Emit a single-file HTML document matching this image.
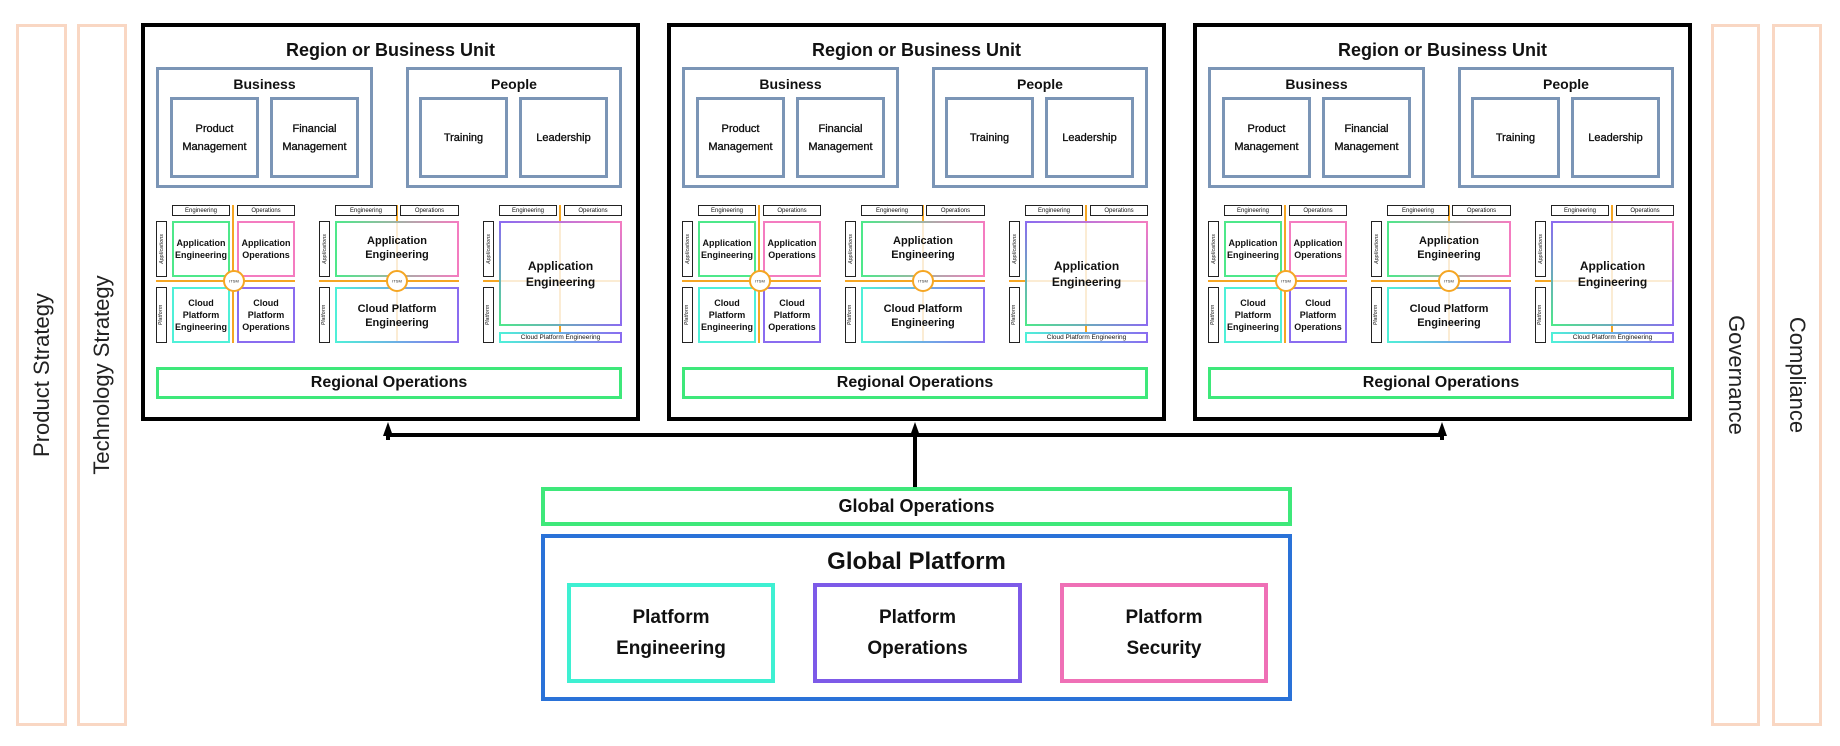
<!DOCTYPE html>
<html><head><meta charset="utf-8"><style>
*{box-sizing:border-box;margin:0;padding:0}
body{width:1840px;height:746px;background:#fff;position:relative;overflow:hidden;font-family:"Liberation Sans",sans-serif;color:#111}
.a{position:absolute}
.c{display:flex;align-items:center;justify-content:center;text-align:center;font-weight:bold}
.side{position:absolute;border:3px solid #f9d7c3;top:24px;height:702px}
.side span{position:absolute;left:50%;top:50%;transform:translate(-50%,-50%) rotate(-90deg);white-space:nowrap;font-size:22px;color:#222}
.side.r span{transform:translate(-50%,-50%) rotate(90deg)}
.reg{position:absolute;top:23px;width:499px;height:398px;border:4px solid #000}
.reg .in{position:absolute;left:-4px;top:-4px;width:499px;height:398px}
.bl{border:3px solid #7b95b6}
.lab{border:1.5px solid #222;font-size:6px;font-weight:normal}
.sl{border:1.5px solid #222}
.sl span{font-size:5px;transform:rotate(-90deg);white-space:nowrap;font-style:italic;color:#555}
.q{font-size:9px;line-height:12px}
</style></head><body>

<div class="side" style="left:16px;width:51px"><span>Product Strategy</span></div>
<div class="side" style="left:77px;width:50px"><span>Technology Strategy</span></div>
<div class="side r" style="left:1711px;width:49px"><span>Governance</span></div>
<div class="side r" style="left:1772px;width:50px"><span>Compliance</span></div>

<div id="r1" class="reg" style="left:141px"><div class="in">
<div class="a c" style="left:0;top:14px;width:499px;height:26px;font-size:18px">Region or Business Unit</div>
<div class="a bl" style="left:15px;top:44px;width:217px;height:121px"></div>
<div class="a c" style="left:15px;top:52px;width:217px;height:18px;font-size:14px">Business</div>
<div class="a bl" style="left:265px;top:44px;width:216px;height:121px"></div>
<div class="a c" style="left:265px;top:52px;width:216px;height:18px;font-size:14px">People</div>
<div class="a bl c" style="left:29px;top:74px;width:89px;height:81px;font-size:11px;line-height:18px;font-weight:normal;-webkit-text-stroke:.3px #000">Product<br>Management</div>
<div class="a bl c" style="left:129px;top:74px;width:89px;height:81px;font-size:11px;line-height:18px;font-weight:normal;-webkit-text-stroke:.3px #000">Financial<br>Management</div>
<div class="a bl c" style="left:278px;top:74px;width:89px;height:81px;font-size:11px;font-weight:normal;-webkit-text-stroke:.3px #000">Training</div>
<div class="a bl c" style="left:378px;top:74px;width:89px;height:81px;font-size:11px;font-weight:normal;-webkit-text-stroke:.3px #000">Leadership</div>

<svg class="a" style="left:0;top:0" width="499" height="398">
<defs>
<linearGradient id="g1"><stop offset="0" stop-color="#4ee88a"/><stop offset="1" stop-color="#f47cc0"/></linearGradient>
<linearGradient id="g2"><stop offset="0" stop-color="#4ff0d8"/><stop offset="1" stop-color="#8a6cf0"/></linearGradient>
<linearGradient id="g3" x1="0" y1="1" x2="1" y2="0"><stop offset="0" stop-color="#4ee88a"/><stop offset=".5" stop-color="#8a6cf0"/><stop offset="1" stop-color="#f47cc0"/></linearGradient>
</defs>
<g stroke="#f5a623" stroke-width="2">
<line x1="92" y1="182" x2="92" y2="320"/><line x1="15" y1="258" x2="154" y2="258"/>
<line x1="256" y1="182" x2="256" y2="198"/><line x1="178" y1="258" x2="318" y2="258"/>
<line x1="419" y1="182" x2="419" y2="198"/><line x1="342" y1="258" x2="358" y2="258"/><line x1="419" y1="303" x2="419" y2="309"/>
</g>
<g stroke="#f7d9a8" stroke-width="1"><line x1="256" y1="198" x2="256" y2="320"/><line x1="419" y1="198" x2="419" y2="303"/><line x1="358" y1="258" x2="481" y2="258"/></g>
<g fill="none" stroke-width="2">
<rect x="32" y="199" width="56" height="54" stroke="#4ee88a"/>
<rect x="97" y="199" width="56" height="54" stroke="#f47cc0"/>
<rect x="32" y="265" width="56" height="54" stroke="#4ff0d8"/>
<rect x="97" y="265" width="56" height="54" stroke="#8a6cf0"/>
<rect x="195" y="199" width="122" height="54" stroke="url(#g1)"/>
<rect x="195" y="265" width="122" height="54" stroke="url(#g2)"/>
<rect x="359" y="199" width="121" height="103" stroke="url(#g3)"/>
<rect x="359" y="310" width="121" height="9" stroke="url(#g2)"/>
</g>
<g fill="#fff" stroke="#f5a623" stroke-width="2"><circle cx="93" cy="258" r="10"/><circle cx="256" cy="258" r="10"/></g>
<g font-family="Liberation Sans" font-size="4" text-anchor="middle" fill="#222"><text x="93" y="259.5">ITSM</text><text x="256" y="259.5">ITSM</text></g>
</svg>
<div class="a lab c" style="left:31px;top:182px;width:58px;height:11px">Engineering</div>
<div class="a lab c" style="left:96px;top:182px;width:58px;height:11px">Operations</div>
<div class="a lab c" style="left:194px;top:182px;width:62px;height:11px">Engineering</div>
<div class="a lab c" style="left:259px;top:182px;width:59px;height:11px">Operations</div>
<div class="a lab c" style="left:358px;top:182px;width:58px;height:11px">Engineering</div>
<div class="a lab c" style="left:423px;top:182px;width:58px;height:11px">Operations</div>
<div class="a sl c" style="left:15px;top:198px;width:11px;height:56px"><span>Applications</span></div>
<div class="a sl c" style="left:15px;top:264px;width:11px;height:56px"><span>Platform</span></div>
<div class="a sl c" style="left:178px;top:198px;width:11px;height:56px"><span>Applications</span></div>
<div class="a sl c" style="left:178px;top:264px;width:11px;height:56px"><span>Platform</span></div>
<div class="a sl c" style="left:342px;top:198px;width:11px;height:56px"><span>Applications</span></div>
<div class="a sl c" style="left:342px;top:264px;width:11px;height:56px"><span>Platform</span></div>
<div class="a c q" style="left:31px;top:198px;width:58px;height:56px">Application<br>Engineering</div>
<div class="a c q" style="left:96px;top:198px;width:58px;height:56px">Application<br>Operations</div>
<div class="a c q" style="left:31px;top:264px;width:58px;height:56px">Cloud<br>Platform<br>Engineering</div>
<div class="a c q" style="left:96px;top:264px;width:58px;height:56px">Cloud<br>Platform<br>Operations</div>
<div class="a c" style="left:194px;top:198px;width:124px;height:54px;font-size:11px;line-height:14px">Application<br>Engineering</div>
<div class="a c" style="left:194px;top:266px;width:124px;height:54px;font-size:11px;line-height:14px">Cloud Platform<br>Engineering</div>
<div class="a c" style="left:358px;top:198px;width:123px;height:105px;font-size:12px;line-height:16px">Application<br>Engineering</div>
<div class="a c" style="left:358px;top:309px;width:123px;height:11px;font-size:6.5px;font-weight:normal">Cloud Platform Engineering</div>
<div class="a c" style="left:15px;top:344px;width:466px;height:32px;border:3px solid #3ee87a;font-size:16px">Regional Operations</div>
</div></div>

<div id="r2" class="reg" style="left:667px"></div>
<div id="r3" class="reg" style="left:1193px"></div>

<svg class="a" style="left:0;top:0" width="1840" height="746">
<g stroke="#000" stroke-width="4" fill="none">
<polyline points="388,432 388,435 1442,435 1442,432"/>
<line x1="915" y1="435" x2="915" y2="487"/>
<line x1="388" y1="440" x2="388" y2="432"/><line x1="915" y1="440" x2="915" y2="432"/><line x1="1442" y1="440" x2="1442" y2="432"/>
</g>
<g fill="#000">
<polygon points="388,422 383,436 393,436"/>
<polygon points="915,422 910,436 920,436"/>
<polygon points="1442,422 1437,436 1447,436"/>
</g>
</svg>

<div class="a c" style="left:541px;top:487px;width:751px;height:39px;border:4px solid #3ee87a;font-size:18px">Global Operations</div>
<div class="a" style="left:541px;top:534px;width:751px;height:167px;border:4px solid #2a72d8"></div>
<div class="a c" style="left:541px;top:542px;width:751px;height:40px;font-size:24px">Global Platform</div>
<div class="a c" style="left:567px;top:583px;width:208px;height:100px;border:4px solid #3ef0d2;font-size:19px;line-height:31px">Platform<br>Engineering</div>
<div class="a c" style="left:813px;top:583px;width:209px;height:100px;border:4px solid #7d5ae8;font-size:19px;line-height:31px">Platform<br>Operations</div>
<div class="a c" style="left:1060px;top:583px;width:208px;height:100px;border:4px solid #ef70b6;font-size:19px;line-height:31px">Platform<br>Security</div>

<script>
var t=document.getElementById('r1').innerHTML;
document.getElementById('r2').innerHTML=t;
document.getElementById('r3').innerHTML=t;
</script>
</body></html>
